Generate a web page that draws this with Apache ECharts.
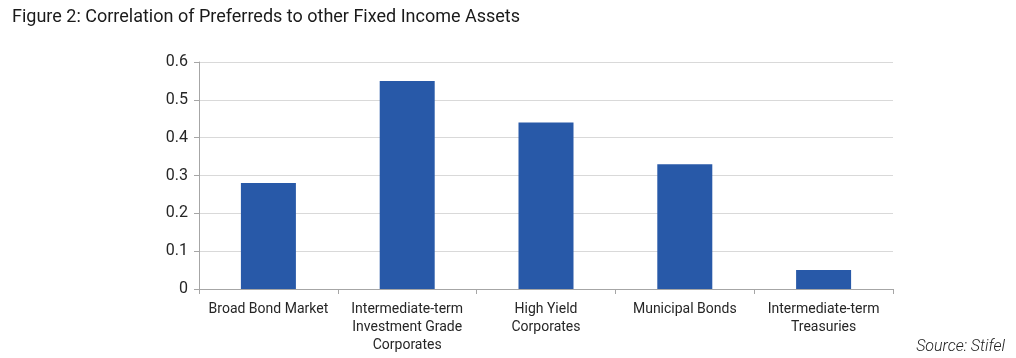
<!DOCTYPE html>
<html>
<head>
<meta charset="utf-8">
<script src="https://cdn.jsdelivr.net/npm/echarts@6/dist/echarts.min.js"></script>
<style>
html,body{margin:0;padding:0;background:#fff;}
#c{width:1016px;height:358px;}
</style>
</head>
<body>
<div id="c"></div>
<script>
const categories = ['Broad Bond Market', 'Intermediate-term\nInvestment Grade\nCorporates', 'High Yield\nCorporates', 'Municipal Bonds', 'Intermediate-term\nTreasuries'];
const correlations = [0.28, 0.55, 0.44, 0.33, 0.05];
const yTicks = [0, 0.1, 0.2, 0.3, 0.4, 0.5, 0.6];

const chart = echarts.init(document.getElementById('c'));
chart.setOption({
  animation: false,
  backgroundColor: '#fff',
  textStyle: { fontFamily: 'Roboto' },
  title: [
    { text: 'Figure 2: Correlation of Preferreds to other Fixed Income Assets', left: 7, top: 3,
      textStyle: { fontFamily: 'Roboto', fontSize: 18, fontWeight: 'normal', color: '#1a1a1a' } },
    { text: 'Source: Stifel', right: 6, top: 334,
      textStyle: { fontFamily: 'Roboto', fontSize: 16, fontWeight: 300, fontStyle: 'italic', color: '#222' } }
  ],
  grid: { left: 199, right: 123, top: 62, bottom: 69 },
  xAxis: {
    type: 'category',
    data: categories,
    axisLine: { lineStyle: { color: '#a6a6a6', width: 1 } },
    axisTick: { show: true, length: 5, alignWithLabel: false, lineStyle: { color: '#a6a6a6' } },
    axisLabel: { interval: 0, fontSize: 14, color: '#262626', lineHeight: 18, margin: 11 }
  },
  yAxis: {
    type: 'value',
    min: 0, max: 0.6, interval: 0.1,
    axisLine: { show: true, lineStyle: { color: '#a6a6a6' } },
    axisTick: { show: true, length: 5, lineStyle: { color: '#a6a6a6' } },
    splitLine: { lineStyle: { color: '#d9d9d9' } },
    axisLabel: { fontSize: 16, color: '#262626', margin: 11,
      formatter: v => { const t = yTicks.find(x => Math.abs(x - v) < 1e-9); return t === undefined ? '' : String(t); } }
  },
  series: [{
    type: 'bar',
    data: correlations,
    barWidth: 55,
    itemStyle: { color: '#2859a8' }
  }]
});
</script>
</body>
</html>
